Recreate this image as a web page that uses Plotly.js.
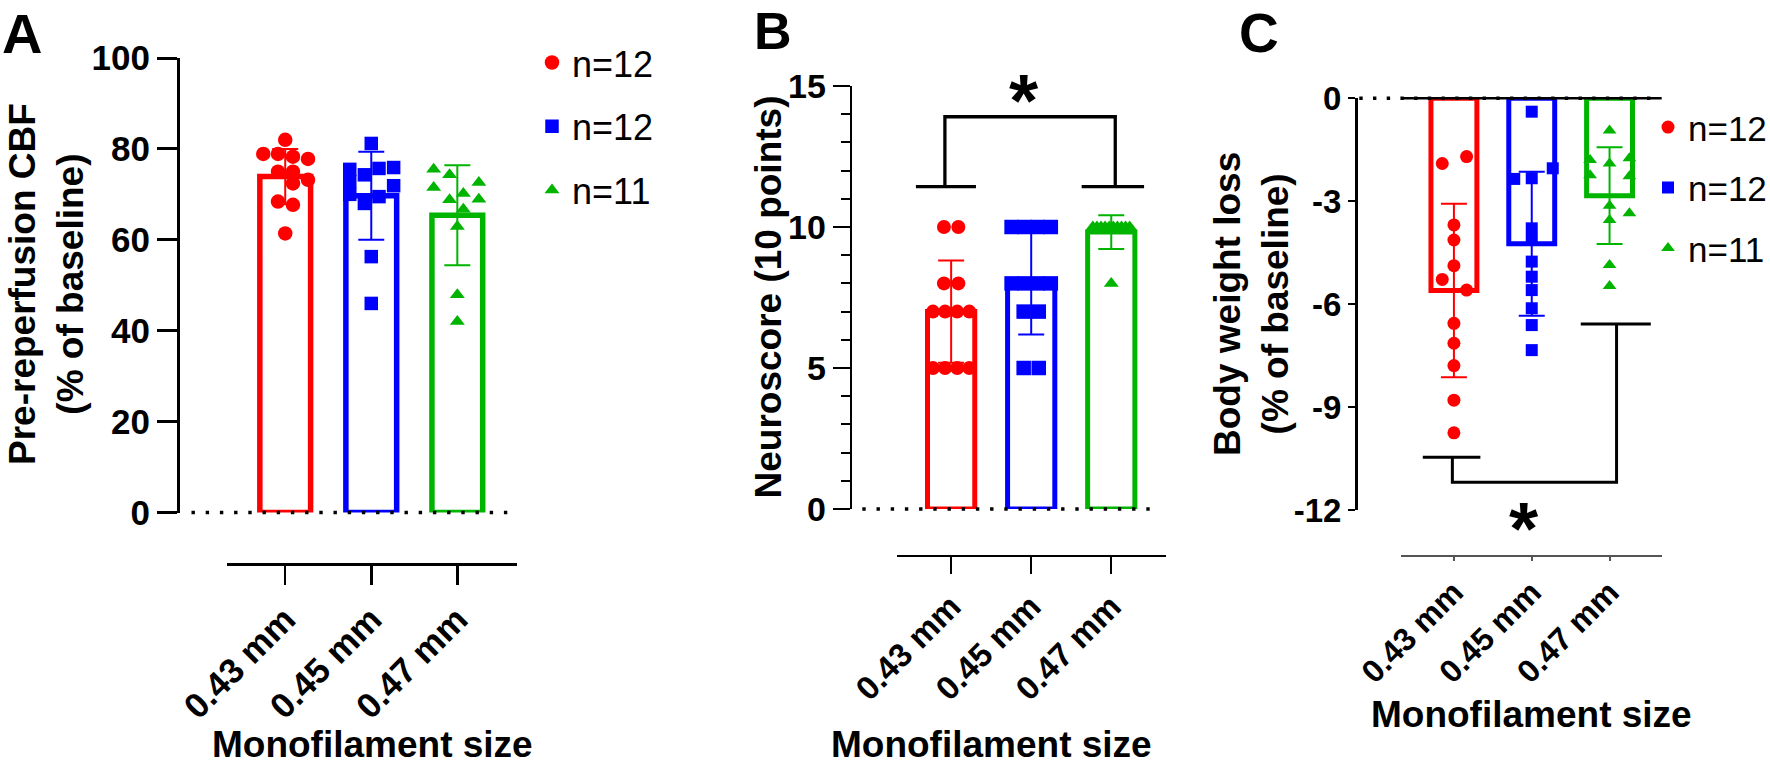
<!DOCTYPE html>
<html>
<head>
<meta charset="utf-8">
<script src="https://cdn.plot.ly/plotly-3.0.1.min.js"></script>
<style>html,body{margin:0;padding:0;background:#fff;} #chart{width:1770px;height:767px;}</style>
</head>
<body>
<div id="chart"></div>
<script>
// ---------------- data ----------------
const categories = ['0.43 mm', '0.45 mm', '0.47 mm'];
const legendLabels = ['n=12', 'n=12', 'n=11'];

// Panel A: pre-reperfusion CBF (% of baseline)
const cbfMean = [73.9, 69.7, 65.4];
const cbfSD = [6.1, 9.7, 11.0];
const cbf043 = [82.0, 78.9, 78.9, 78.3, 77.8, 75.0, 75.0, 73.2, 72.4, 68.4, 67.7, 61.4];
const cbf045 = [81.2, 75.5, 75.9, 75.7, 74.3, 72.8, 71.9, 70.0, 69.5, 68.0, 56.3, 46.0];
const cbf047 = [75.5, 74.3, 72.6, 71.5, 68.8, 70.2, 68.9, 66.7, 62.9, 47.9, 42.0];

// Panel B: neuroscore (10 points)
const neuroMean = [7.0, 8.0, 9.82];
const neuroSD = [1.81, 1.81, 0.6];
const neuro043 = [10, 10, 8, 8, 7, 7, 7, 7, 5, 5, 5, 5];
const neuro045 = [10, 10, 10, 10, 8, 8, 8, 8, 7, 7, 5, 5];
const neuro047 = [10, 10, 10, 10, 10, 10, 10, 10, 10, 10, 8];

// Panel C: body weight loss (% of baseline)
const bwMean = [-5.6, -4.24, -2.84];
const bwSD = [2.53, 2.1, 1.41];
const bw043 = [-1.90, -1.70, -3.69, -4.13, -4.88, -5.28, -5.59, -6.56, -7.14, -7.79, -8.80, -9.75];
const bw045 = [-0.39, -2.35, -2.33, -2.04, -3.79, -4.13, -4.76, -5.20, -5.59, -6.12, -6.61, -7.34];
const bw047 = [-0.94, -1.80, -1.90, -1.75, -2.24, -2.27, -3.13, -3.35, -3.55, -4.86, -5.47];

// ---------------- horizontal scatter offsets of the points (layout, category units) ----------------
const jitA = [
  [0, -0.255, -0.084, 0.09, 0.265, -0.084, 0.09, 0.265, 0.09, -0.084, 0.09, 0],
  [0, -0.25, 0.26, 0.09, -0.08, -0.25, 0.26, -0.25, 0.09, -0.08, 0, 0],
  [-0.275, -0.09, 0.25, -0.275, -0.09, 0.07, 0.25, 0.07, 0, 0, 0]
];
const jitB = [
  [-0.09, 0.09, -0.09, 0.09, -0.227, -0.076, 0.076, 0.227, -0.227, -0.076, 0.076, 0.227],
  [-0.245, -0.082, 0.082, 0.245, -0.245, -0.082, 0.082, 0.245, -0.094, 0.094, -0.094, 0.094],
  [-0.23, -0.179, -0.128, -0.077, -0.026, 0.026, 0.077, 0.128, 0.179, 0.23, 0]
];
const jitC = [
  [-0.15, 0.163, 0, 0, 0, -0.15, 0.163, 0, 0, 0, 0, 0],
  [0, -0.225, 0, 0.27, 0, 0, 0, 0, 0, 0, 0, 0],
  [0, -0.25, 0, 0.255, -0.25, 0.255, 0, 0.255, 0, 0, 0]
];

// ---------------- styling ----------------
const colors = ['#FF0000', '#0000FF', '#00B400'];
const symbols = ['circle', 'square', 'triangle-up'];
const FONT = 'Liberation Sans, Arial, Helvetica, sans-serif';
const W = 1770, H = 767;
const px = v => v / W;
const py = v => 1 - v / H;

const xDomA = [px(226.7), px(516.7)], yDomA = [py(512.5), py(58)];
const xDomB = [px(896.7), px(1165.7)], yDomB = [py(509), py(86)];
const xDomC = [px(1401), px(1661.7)], yDomC = [py(510), py(98.3)];

function panel(xa, ya, means, sds, groups, jits, sizes, lineW, legendId, showLeg) {
  const tr = [];
  for (let i = 0; i < 3; i++) {
    tr.push({
      type: 'bar', x: [i], y: [means[i]], width: 0.59, xaxis: xa, yaxis: ya,
      marker: {color: 'rgba(0,0,0,0)', line: {color: colors[i], width: lineW}},
      error_y: {type: 'data', array: [sds[i]], visible: true, color: colors[i], thickness: 2, width: 13},
      showlegend: false, cliponaxis: false, hoverinfo: 'skip'
    });
  }
  for (let i = 0; i < 3; i++) {
    tr.push({
      type: 'scatter', mode: 'markers', xaxis: xa, yaxis: ya,
      x: groups[i].map((v, j) => i + jits[i][j]), y: groups[i],
      marker: {symbol: symbols[i], size: sizes[i], color: colors[i], line: {width: 0}},
      name: legendLabels[i], legend: legendId, legendgroup: legendId + '_' + i,
      showlegend: showLeg, cliponaxis: false, hoverinfo: 'skip'
    });
  }
  return tr;
}

const data = [].concat(
  panel('x', 'y', cbfMean, cbfSD, [cbf043, cbf045, cbf047], jitA, [14.5, 13.5, 13], 5.5, 'legend', true),
  panel('x2', 'y2', neuroMean, neuroSD, [neuro043, neuro045, neuro047], jitB, [14, 14.5, 13], 5, 'legend', false),
  panel('x3', 'y3', bwMean, bwSD, [bw043, bw045, bw047], jitC, [13, 12, 12], 5, 'legend2', true)
);

function xAxis(dom, rng, pos, lw, tlen, tfsize, lcolor) {
  return {
    domain: dom, range: rng, anchor: 'free', position: pos, type: 'linear',
    showline: true, linecolor: lcolor, linewidth: lw,
    ticks: 'outside', ticklen: tlen, tickwidth: lw, tickcolor: lcolor,
    tickmode: 'array', tickvals: [0, 1, 2], ticktext: categories, tickangle: -45,
    tickfont: {family: FONT, size: tfsize, weight: 700, color: 'black'},
    showgrid: false, zeroline: false, fixedrange: true
  };
}

const bold = (size) => ({family: FONT, size: size, weight: 700, color: 'black'});

const layout = {
  width: W, height: H,
  margin: {l: 0, r: 0, t: 0, b: 0, autoexpand: false},
  paper_bgcolor: 'white', plot_bgcolor: 'rgba(0,0,0,0)',
  font: {family: FONT, color: 'black'},
  barmode: 'overlay', hovermode: false, showlegend: true,
  xaxis: xAxis(xDomA, [-0.68, 2.69], py(564.3), 2.5, 19, 35, 'black'),
  xaxis2: xAxis(xDomB, [-0.68, 2.68], py(556), 2, 17, 33, 'black'),
  xaxis3: xAxis(xDomC, [-0.68, 2.67], py(555.7), 2, 4, 32, '#555555'),
  yaxis: {
    domain: yDomA, range: [0, 100], anchor: 'free', position: px(178),
    showline: true, linecolor: 'black', linewidth: 3,
    ticks: 'outside', ticklen: 20, tickwidth: 3, tickcolor: 'black',
    tick0: 0, dtick: 20, tickfont: bold(35),
    showgrid: false, zeroline: false, fixedrange: true
  },
  yaxis2: {
    domain: yDomB, range: [0, 15], anchor: 'free', position: px(850.7),
    showline: true, linecolor: 'black', linewidth: 2,
    ticks: 'outside', ticklen: 17, tickwidth: 2, tickcolor: 'black',
    tick0: 0, dtick: 5, tickfont: bold(34),
    minor: {ticks: 'outside', ticklen: 9, tickwidth: 2, tickcolor: 'black', dtick: 1, showgrid: false},
    showgrid: false, zeroline: false, fixedrange: true
  },
  yaxis3: {
    domain: yDomC, range: [-12, 0], anchor: 'free', position: px(1356),
    showline: true, linecolor: 'black', linewidth: 2.5,
    ticks: 'outside', ticklen: 7, tickwidth: 2, tickcolor: 'black',
    tickmode: 'array', tickvals: [-12, -9, -6, -3, 0], ticktext: ['-12', '-9', '-6', '-3', '0'],
    tickfont: bold(33),
    showgrid: false, zeroline: false, fixedrange: true
  },
  legend: {
    x: px(532), y: py(32.6), xanchor: 'left', yanchor: 'top',
    font: {family: FONT, size: 36, color: 'black'}, tracegroupgap: 14,
    bgcolor: 'rgba(0,0,0,0)', borderwidth: 0, itemsizing: 'trace'
  },
  legend2: {
    x: px(1648), y: py(97.8), xanchor: 'left', yanchor: 'top',
    font: {family: FONT, size: 35, color: 'black'}, tracegroupgap: 12,
    bgcolor: 'rgba(0,0,0,0)', borderwidth: 0, itemsizing: 'trace'
  },
  shapes: [
    // dotted baselines at y = 0
    {type: 'line', xref: 'paper', yref: 'paper', x0: px(191.5), x1: px(508), y0: yDomA[0], y1: yDomA[0],
     line: {color: 'black', width: 3.4, dash: '3.4px,10.8px'}},
    {type: 'line', xref: 'paper', yref: 'paper', x0: px(862.3), x1: px(1160), y0: yDomB[0], y1: yDomB[0],
     line: {color: 'black', width: 3.4, dash: '3.4px,10.8px'}},
    {type: 'line', xref: 'paper', yref: 'paper', x0: xDomC[0], x1: xDomC[1], y0: yDomC[1], y1: yDomC[1],
     line: {color: 'black', width: 2.5}},
    {type: 'line', xref: 'paper', yref: 'paper', x0: px(1359.3), x1: px(1660), y0: yDomC[1], y1: yDomC[1],
     line: {color: 'black', width: 3.4, dash: '3.4px,10.3px'}},
    // significance bracket, panel B
    {type: 'path', xref: 'x2', yref: 'y2', path: 'M-0.078,11.43 L-0.078,13.91 L2.05,13.91 L2.05,11.43',
     line: {color: 'black', width: 3.3}},
    {type: 'line', xref: 'x2', yref: 'y2', x0: -0.44, x1: 0.31, y0: 11.43, y1: 11.43, line: {color: 'black', width: 3.3}},
    {type: 'line', xref: 'x2', yref: 'y2', x0: 1.63, x1: 2.41, y0: 11.43, y1: 11.43, line: {color: 'black', width: 3.3}},
    // significance bracket, panel C
    {type: 'path', xref: 'x3', yref: 'y3', path: 'M-0.02,-10.46 L-0.02,-11.19 L2.09,-11.19 L2.09,-6.58',
     line: {color: 'black', width: 3}},
    {type: 'line', xref: 'x3', yref: 'y3', x0: -0.40, x1: 0.34, y0: -10.46, y1: -10.46, line: {color: 'black', width: 3}},
    {type: 'line', xref: 'x3', yref: 'y3', x0: 1.63, x1: 2.53, y0: -6.58, y1: -6.58, line: {color: 'black', width: 3}}
  ],
  annotations: [
    // panel letters
    {text: 'A', x: 0, y: 1, xref: 'paper', yref: 'paper', showarrow: false, xanchor: 'left', yanchor: 'top',
     font: bold(56)},
    {text: 'B', x: px(752), y: 1, xref: 'paper', yref: 'paper', showarrow: false, xanchor: 'left', yanchor: 'top',
     font: bold(52)},
    {text: 'C', x: px(1237), y: 1, xref: 'paper', yref: 'paper', showarrow: false, xanchor: 'left', yanchor: 'top',
     font: bold(55)},
    // axis titles
    {text: 'Pre-reperfusion CBF<br>(% of baseline)', textangle: -90, x: px(47), y: py(284), xref: 'paper', yref: 'paper',
     showarrow: false, xanchor: 'center', yanchor: 'middle', font: bold(37)},
    {text: 'Neuroscore (10 points)', textangle: -90, x: px(767.5), y: py(297), xref: 'paper', yref: 'paper',
     showarrow: false, xanchor: 'center', yanchor: 'middle', font: bold(37)},
    {text: 'Body weight loss<br>(% of baseline)', textangle: -90, x: px(1251), y: py(304), xref: 'paper', yref: 'paper',
     showarrow: false, xanchor: 'center', yanchor: 'middle', font: bold(37)},
    {text: 'Monofilament size', x: px(372), y: py(744), xref: 'paper', yref: 'paper', showarrow: false,
     xanchor: 'center', yanchor: 'middle', font: bold(37)},
    {text: 'Monofilament size', x: px(991), y: py(744), xref: 'paper', yref: 'paper', showarrow: false,
     xanchor: 'center', yanchor: 'middle', font: bold(37)},
    {text: 'Monofilament size', x: px(1531), y: py(714), xref: 'paper', yref: 'paper', showarrow: false,
     xanchor: 'center', yanchor: 'middle', font: bold(37)},
    // significance stars
    {text: '*', x: px(1024), y: py(100), xref: 'paper', yref: 'paper', showarrow: false,
     xanchor: 'center', yanchor: 'middle', font: bold(75)},
    {text: '*', x: px(1524), y: py(528), xref: 'paper', yref: 'paper', showarrow: false,
     xanchor: 'center', yanchor: 'middle', font: bold(75)}
  ]
};

Plotly.newPlot('chart', data, layout, {staticPlot: true, displayModeBar: false});
</script>
</body>
</html>
